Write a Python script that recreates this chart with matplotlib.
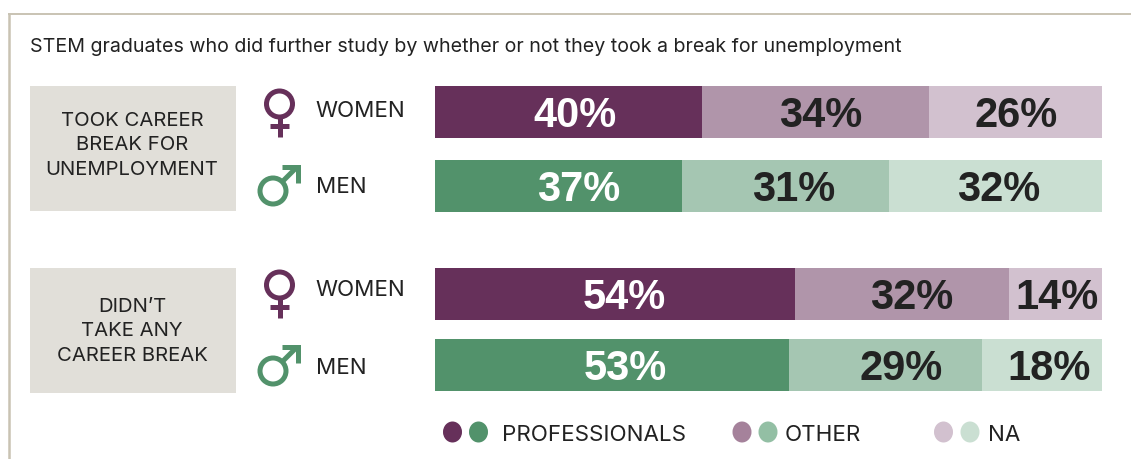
import matplotlib
matplotlib.use("Agg")
import matplotlib.pyplot as plt
from matplotlib.patches import Circle, Ellipse, Rectangle

W, H = 1131, 460

title = "STEM graduates who did further study by whether or not they took a break for unemployment"
groups = ["TOOK CAREER\nBREAK FOR\nUNEMPLOYMENT", "DIDN’T\nTAKE ANY\nCAREER BREAK"]
rows = ["WOMEN", "MEN", "WOMEN", "MEN"]
categories = ["PROFESSIONALS", "OTHER", "NA"]
professionals = [40, 37, 54, 53]
other = [34, 31, 32, 29]
na = [26, 32, 14, 18]

PURPLES = ["#66305a", "#b095aa", "#d2c1cf"]
GREENS = ["#52926b", "#a5c6b2", "#cadfd2"]
LEGEND_PURPLES = ["#66305a", "#a5829b", "#d2c1cf"]
LEGEND_GREENS = ["#52926b", "#93bfa4", "#cadfd2"]
INK = "#222222"
BAR_TOPS = [87, 161, 269, 340]
BAR_H = 52
# sideways shift of each value label from its segment centre, in pixels
NUDGE = [[7, 5, 1], [20, 8, 3], [9, 10, 2], [14, 16, 7]]

plt.rcParams["font.family"] = ["Inter", "Roboto", "DejaVu Sans"]
fig = plt.figure(figsize=(W / 100, H / 100), dpi=100)

# overlay in pixel coordinates for the frame, boxes, icons and legend
bg = fig.add_axes([0, 0, 1, 1])
bg.set_xlim(0, W)
bg.set_ylim(H, 0)
bg.axis("off")

bg.plot([9, 9], [H, 15], color="#c9c3b3", lw=1.8, solid_capstyle="butt")
bg.plot([8, W], [15, 15], color="#c9c3b3", lw=1.4, solid_capstyle="butt")
bg.text(30, 47, title, fontsize=14.15, color=INK, va="center", ha="left")

for top, mid, label in zip([87, 269], [145.5, 331.5], groups):
    bg.add_patch(Rectangle((30, top), 206, 125, color="#e1dfd9", lw=0))
    bg.text(132, mid, label, fontsize=14.6, color=INK, ha="center", va="center",
            linespacing=1.48)


def female_icon(ax, top):
    c = PURPLES[0]
    ax.add_patch(Circle((279.5, top + 19), 13, fill=False, ec=c, lw=3.6))
    ax.plot([279.5, 279.5], [top + 32, top + 52], color=c, lw=3.6, solid_capstyle="butt")
    ax.plot([270, 289], [top + 41, top + 41], color=c, lw=3.6, solid_capstyle="butt")


def male_icon(ax, top):
    c = GREENS[0]
    ax.add_patch(Circle((273, top + 32), 13, fill=False, ec=c, lw=3.6))
    ax.plot([282, 297], [top + 23, top + 8], color=c, lw=3.6, solid_capstyle="butt")
    ax.plot([282, 297.5, 297.5], [top + 7.5, top + 7.5, top + 24], color=c, lw=3.6,
            solid_joinstyle="miter", solid_capstyle="butt")


female_icon(bg, 86)
male_icon(bg, 160)
female_icon(bg, 267)
male_icon(bg, 340)

for y, label in zip([111, 187, 290, 368], rows):
    bg.text(315.5, y, label, fontsize=16.1, color=INK, va="center", ha="left")

# stacked bars on their own 0-100 scale
ax = fig.add_axes([435 / W, 0, (1102 - 435) / W, 1])
ax.set_xlim(0, 100)
ax.set_ylim(H, 0)
ax.axis("off")
ax.patch.set_alpha(0)

for i, vals in enumerate(zip(professionals, other, na)):
    cols = PURPLES if rows[i] == "WOMEN" else GREENS
    left = 0
    for j, v in enumerate(vals):
        ax.barh(BAR_TOPS[i] + BAR_H / 2, v, left=left, height=BAR_H, color=cols[j], lw=0)
        ax.annotate(f"{v}%", (left + v / 2, BAR_TOPS[i] + BAR_H / 2),
                    xytext=(NUDGE[i][j] * 0.72, -2.4), textcoords="offset points",
                    ha="center", va="center", fontsize=30, fontweight="bold",
                    family="Liberation Sans",
                    color="white" if j == 0 else INK)
        left += v

# legend dots are paired, one per gender colour
dot_x = [(452.5, 478.5), (742, 768), (943.5, 970)]
text_x = [502, 785, 988]
for k, name in enumerate(categories):
    bg.add_patch(Ellipse((dot_x[k][0], 433), 19, 21, color=LEGEND_PURPLES[k], lw=0))
    bg.add_patch(Ellipse((dot_x[k][1], 433), 19, 21, color=LEGEND_GREENS[k], lw=0))
    bg.text(text_x[k], 435, name, fontsize=16.1, color=INK, va="center", ha="left")

fig.savefig("out.png", dpi=100)
